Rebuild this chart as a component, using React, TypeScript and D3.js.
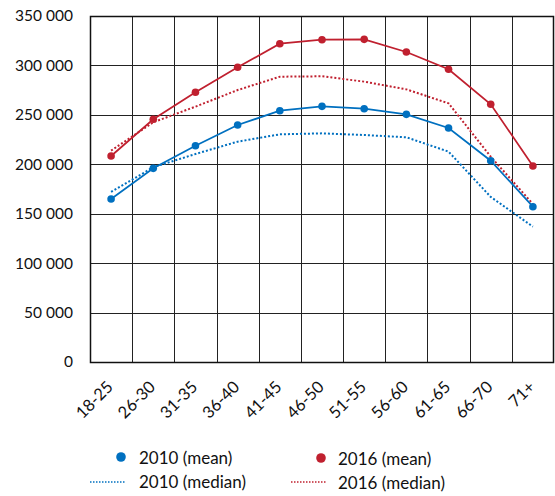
import React from "react";
import * as d3 from "d3";

const categories = ["18-25", "26-30", "31-35", "36-40", "41-45", "46-50", "51-55", "56-60", "61-65", "66-70", "71+"];
const mean2010 = [164900, 195900, 218800, 239700, 254200, 258600, 256200, 250500, 236700, 203600, 157100];
const median2010 = [172000, 197000, 210400, 222900, 230300, 231300, 229600, 227300, 212800, 167000, 136900];
const mean2016 = [208400, 245500, 272800, 298100, 322000, 326000, 326400, 313600, 296100, 260700, 198300];
const median2016 = [213800, 242500, 258300, 275100, 288600, 289000, 283600, 275800, 261700, 207700, 159800];
const yTicks = [0, 50000, 100000, 150000, 200000, 250000, 300000, 350000];
const legendLabels = ["2010 (mean)", "2016 (mean)", "2010 (median)", "2016 (median)"];

const BLUE = "#0070c0";
const RED = "#c0202f";
const FONT = "Lato, 'Open Sans', sans-serif";

export default function App() {
  const W = 555, H = 496;
  const left = 90, right = 554, top = 16, bottom = 362;
  const x = d3.scaleBand<string>().domain(categories).range([left, right]).padding(0);
  const y = d3.scaleLinear().domain([0, 350000]).range([bottom, top]);
  const cx = (c: string) => (x(c) as number) + x.bandwidth() / 2;
  const line = d3.line<number>().x((_, i) => cx(categories[i])).y((v) => y(v));
  const fmt = (v: number) => d3.format(",")(v).replace(/,/g, " ");

  return (
    <svg width={W} height={H} style={{ position: "absolute", left: 0, top: 0 }} fontFamily={FONT}>
      <rect x={0} y={0} width={W} height={H} fill="#fff" />
      {yTicks.map((t) => (
        <g key={t}>
          <line x1={left} x2={right} y1={Math.round(y(t)) + 0.5} y2={Math.round(y(t)) + 0.5} stroke="#222" strokeWidth={1} />
          <text x={73} y={y(t)} dy="0.35em" textAnchor="end" fontSize={15.5} fill="#111">{fmt(t)}</text>
        </g>
      ))}
      {categories.map((c) => (
        <line key={c} x1={Math.round(x(c) as number) + 0.5} x2={Math.round(x(c) as number) + 0.5} y1={top} y2={bottom} stroke="#222" strokeWidth={1} />
      ))}
      <rect x={left + 0.5} y={top + 0.5} width={right - left - 1} height={bottom - top} fill="none" stroke="#111" strokeWidth={1.5} />
      {categories.map((c) => (
        <text key={c} transform={`translate(${cx(c) + 3},${bottom + 26}) rotate(-45)`} textAnchor="end" fontSize={16.5} fill="#111">{c}</text>
      ))}
      <path d={line(median2010) as string} fill="none" stroke={BLUE} strokeWidth={2} strokeDasharray="2 2" />
      <path d={line(median2016) as string} fill="none" stroke={RED} strokeWidth={2} strokeDasharray="2 2" />
      <path d={line(mean2010) as string} fill="none" stroke={BLUE} strokeWidth={1.75} />
      <path d={line(mean2016) as string} fill="none" stroke={RED} strokeWidth={1.75} />
      {mean2010.map((v, i) => (
        <circle key={"b" + i} cx={cx(categories[i])} cy={y(v)} r={3.8} fill={BLUE} />
      ))}
      {mean2016.map((v, i) => (
        <circle key={"r" + i} cx={cx(categories[i])} cy={y(v)} r={3.8} fill={RED} />
      ))}
      <g fontSize={17} fill="#111">
        <circle cx={121} cy={457} r={4.8} fill={BLUE} />
        <text x={139} y={458} dy="0.35em">{legendLabels[0]}</text>
        <circle cx={321} cy={458} r={4.8} fill={RED} />
        <text x={338} y={459} dy="0.35em">{legendLabels[1]}</text>
        <line x1={90} x2={126} y1={482} y2={482} stroke={BLUE} strokeWidth={1.5} strokeDasharray="1.5 1.5" />
        <text x={139} y={482} dy="0.35em">{legendLabels[2]}</text>
        <line x1={291} x2={327} y1={482} y2={482} stroke={RED} strokeWidth={1.5} strokeDasharray="1.5 1.5" />
        <text x={338} y={483} dy="0.35em">{legendLabels[3]}</text>
      </g>
    </svg>
  );
}
